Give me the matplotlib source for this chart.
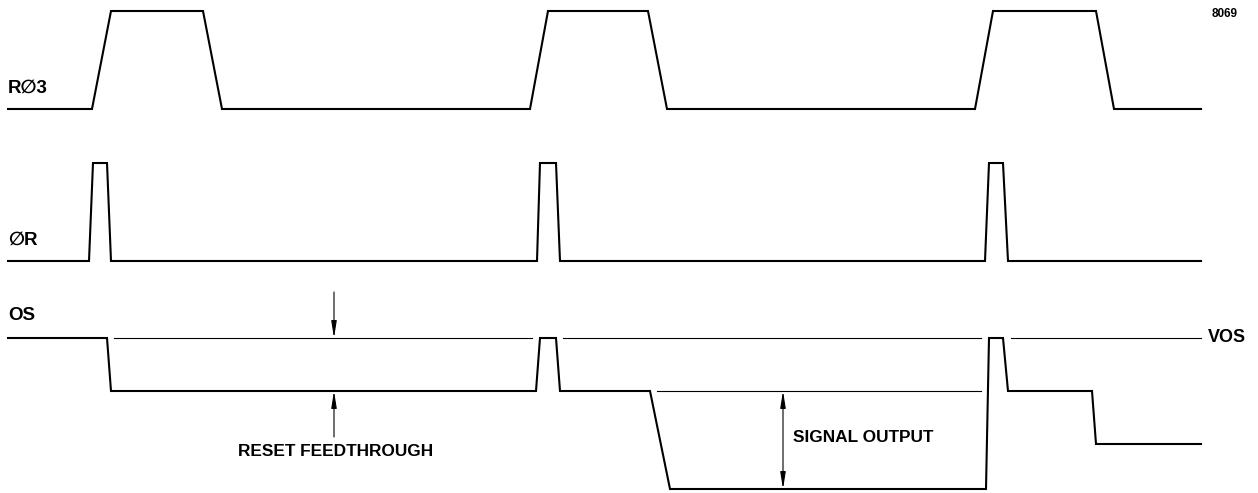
import matplotlib.pyplot as plt

# waveform breakpoints: time (x) and level (y), in drawing units
rphi3_t = [8, 92, 111, 203, 222, 530, 548, 648, 667, 975, 993, 1096, 1114, 1201]
rphi3_y = [109, 109, 11, 11, 109, 109, 11, 11, 109, 109, 11, 11, 109, 109]

phir_t = [8, 89, 93, 107, 111, 537, 540, 556, 560, 985, 989, 1003, 1008, 1201]
phir_y = [261, 261, 163, 163, 261, 261, 163, 163, 261, 261, 163, 163, 261, 261]

os_t = [8, 107, 111, 536, 540, 556, 560, 650, 670, 986, 989, 1003, 1008, 1092, 1096, 1201]
os_y = [338, 338, 391, 391, 338, 338, 391, 391, 489, 489, 338, 338, 391, 391, 444, 444]

# thin reference lines (VOS level and signal reference)
vos_level = 338
vos_segments = [(114, 532), (563, 981), (1011, 1201)]
ref_level = 391
ref_segments = [(657, 981)]

labels = ['R\u2205 3'.replace(' ', ''), '\u2205R', 'OS']
label_y = [88, 240, 315]

fig = plt.figure(figsize=(12.58, 4.93), dpi=100)
ax = fig.add_axes([0, 0, 1, 1])
ax.set_xlim(0, 1258)
ax.set_ylim(493, 0)
ax.axis('off')

lw = 1.5
ax.plot(rphi3_t, rphi3_y, color='black', lw=lw, solid_joinstyle='miter')
ax.plot(phir_t, phir_y, color='black', lw=lw, solid_joinstyle='miter')
ax.plot(os_t, os_y, color='black', lw=lw, solid_joinstyle='miter')

for x0, x1 in vos_segments:
    ax.plot([x0, x1], [vos_level, vos_level], color='black', lw=0.8)
for x0, x1 in ref_segments:
    ax.plot([x0, x1], [ref_level, ref_level], color='black', lw=0.8)

fam = ['Liberation Sans', 'DejaVu Sans']
for txt, y in zip(labels, label_y):
    ax.text(8, y, txt, fontsize=13.5, family=fam, fontweight='bold',
            va='center', ha='left')
ax.text(1208, vos_level, 'VOS', fontsize=13, family=fam, fontweight='bold',
        va='center', ha='left')
ax.text(1212, 14, '8069', fontsize=8.5, family=fam, fontweight='bold',
        va='center', ha='left')

# reset feedthrough arrows
arr = dict(arrowstyle='-|>,head_length=1.0,head_width=0.16', color='black',
           lw=0.8, shrinkA=0, shrinkB=0)
ax.annotate('', xy=(334, vos_level), xytext=(334, 292), arrowprops=arr)
ax.annotate('', xy=(334, ref_level), xytext=(334, 437), arrowprops=arr)
ax.text(238, 451, 'RESET FEEDTHROUGH', fontsize=12.4, family=fam,
        fontweight='bold', va='center', ha='left')

# signal output dimension arrow
arr2 = dict(arrowstyle='<|-|>,head_length=1.0,head_width=0.16', color='black',
            lw=0.8, shrinkA=0, shrinkB=0)
ax.annotate('', xy=(783, ref_level), xytext=(783, 489), arrowprops=arr2)
ax.text(793, 438, 'SIGNAL OUTPUT', fontsize=12.4, family=fam,
        fontweight='bold', va='center', ha='left')

fig.savefig('out.png', dpi=100)
